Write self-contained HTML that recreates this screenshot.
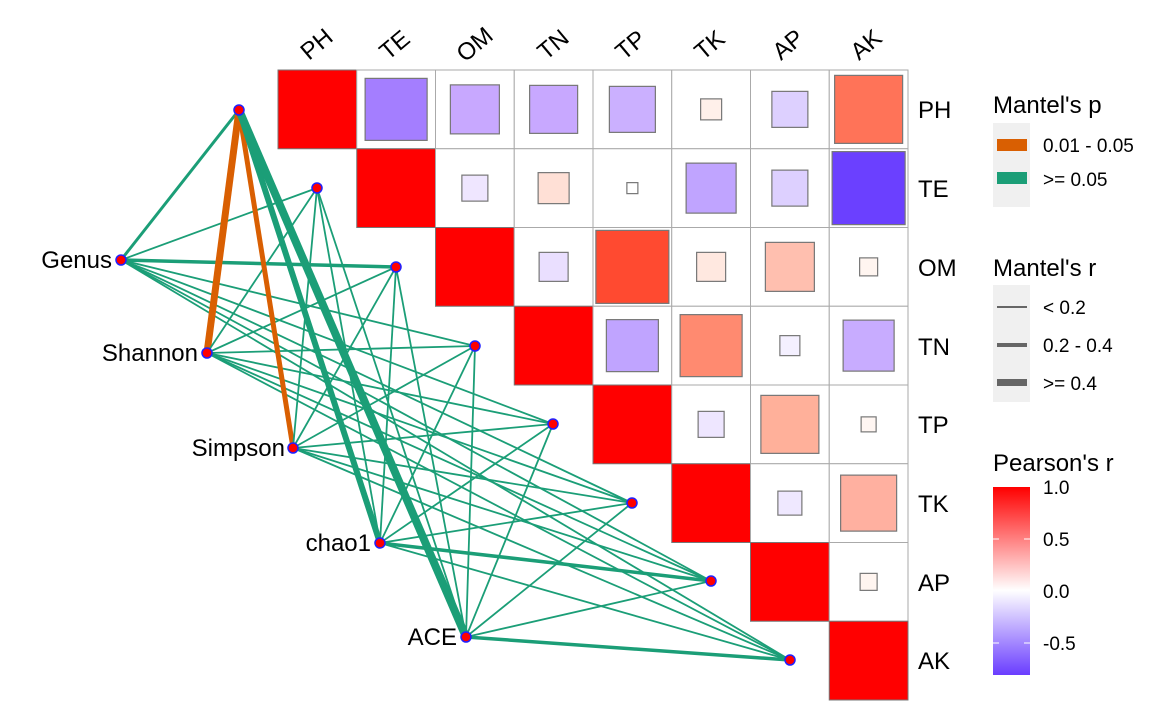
<!DOCTYPE html>
<html><head><meta charset="utf-8"><style>body{margin:0;background:#fff}svg{display:block;font-family:"Liberation Sans",sans-serif}</style></head><body>
<svg width="1160" height="727" viewBox="0 0 1160 727" xmlns="http://www.w3.org/2000/svg">
<rect width="1160" height="727" fill="#fff"/>
<g id="grid"></g>
<g id="edges"></g>
<g id="nodes"></g>
<g font-size="24" fill="#000">
<text transform="translate(309,61) rotate(-40)">PH</text>
<text transform="translate(388,61) rotate(-40)">TE</text>
<text transform="translate(465,63) rotate(-40)">OM</text>
<text transform="translate(546,61) rotate(-40)">TN</text>
<text transform="translate(624,61) rotate(-40)">TP</text>
<text transform="translate(703,61) rotate(-40)">TK</text>
<text transform="translate(781,61) rotate(-40)">AP</text>
<text transform="translate(859,61) rotate(-40)">AK</text>
<text x="918" y="118">PH</text><text x="918" y="197">TE</text><text x="918" y="276">OM</text><text x="918" y="355">TN</text>
<text x="918" y="433">TP</text><text x="918" y="512">TK</text><text x="918" y="591">AP</text><text x="918" y="669">AK</text>
<text x="112" y="268" text-anchor="end">Genus</text>
<text x="198" y="361" text-anchor="end">Shannon</text>
<text x="285" y="456" text-anchor="end">Simpson</text>
<text x="371" y="551" text-anchor="end">chao1</text>
<text x="457" y="645" text-anchor="end">ACE</text>
</g>
<g font-size="24"><text x="993" y="113">Mantel's p</text><text x="993" y="276">Mantel's r</text><text x="993" y="471">Pearson's r</text></g>
<rect x="993" y="123" width="37" height="84" fill="#f0f0f0"/>
<rect x="997" y="139" width="30" height="12" fill="#d95f02"/>
<rect x="997" y="172" width="30" height="12" fill="#1b9e77"/>
<rect x="993" y="285" width="37" height="117" fill="#f0f0f0"/>
<rect x="997" y="306" width="30" height="2" fill="#666"/>
<rect x="997" y="343" width="30" height="4" fill="#666"/>
<rect x="997" y="379" width="30" height="7" fill="#666"/>
<g font-size="19"><text x="1043" y="152">0.01 - 0.05</text><text x="1043" y="186">&gt;= 0.05</text>
<text x="1043" y="314">&lt; 0.2</text><text x="1043" y="352">0.2 - 0.4</text><text x="1043" y="390">&gt;= 0.4</text>
<text x="1043" y="494">1.0</text><text x="1043" y="546">0.5</text><text x="1043" y="598">0.0</text><text x="1043" y="650">-0.5</text></g>
<defs><linearGradient id="cb" x1="0" y1="0" x2="0" y2="1">
<stop offset="0" stop-color="#ff0000"/><stop offset="0.55" stop-color="#ffffff"/><stop offset="1" stop-color="#6a3dff"/></linearGradient></defs>
<rect x="993" y="487" width="37" height="188" fill="url(#cb)"/>
<g stroke="#fff" stroke-width="1"><line x1="993" y1="539" x2="999" y2="539"/><line x1="1024" y1="539" x2="1030" y2="539"/><line x1="993" y1="643" x2="999" y2="643"/><line x1="1024" y1="643" x2="1030" y2="643"/></g>
<script>
var x0=278,y0=70,c=78.75,ns="http://www.w3.org/2000/svg";
function el(t,a,p){var e=document.createElementNS(ns,t);for(var k in a)e.setAttribute(k,a[k]);document.getElementById(p).appendChild(e);return e;}
for(var i=0;i<8;i++)for(var j=i;j<8;j++){
 if(i==j)el('rect',{x:x0+j*c,y:y0+i*c,width:c,height:c,fill:'#ff0000',stroke:'#777','stroke-width':1},'grid');
 else el('rect',{x:x0+j*c,y:y0+i*c,width:c,height:c,fill:'#fff',stroke:'#aaa','stroke-width':1},'grid');}
var sq=[[0,1,62,'#a47eff'],[0,2,49,'#c8a8ff'],[0,3,48,'#c8a8ff'],[0,4,46,'#cbb0ff'],[0,5,21,'#fff0ea'],[0,6,36,'#ddd0ff'],[0,7,68,'#ff7358'],
[1,2,26,'#efe6ff'],[1,3,31,'#ffe0d6'],[1,4,11,'#ffffff'],[1,5,50,'#c0a4ff'],[1,6,36,'#ddd0ff'],[1,7,73,'#6b40ff'],
[2,3,29,'#eadfff'],[2,4,73,'#ff4a30'],[2,5,29,'#ffe8e0'],[2,6,49,'#ffbfaf'],[2,7,18,'#fff5f0'],
[3,4,52,'#c0a4ff'],[3,5,62,'#ff8a70'],[3,6,20,'#f4f0ff'],[3,7,51,'#c8acff'],
[4,5,26,'#eee6ff'],[4,6,58,'#ffb09a'],[4,7,15,'#fff6f2'],[5,6,24,'#efe8ff'],[5,7,56,'#ffb0a0'],[6,7,17,'#fff5f0']];
sq.forEach(function(s){var cx=x0+(s[1]+.5)*c,cy=y0+(s[0]+.5)*c;el('rect',{x:cx-s[2]/2,y:cy-s[2]/2,width:s[2],height:s[2],fill:s[3],stroke:'#777','stroke-width':1.2},'grid');});
var T=[[239,110],[317,188],[396,267],[475,346],[553,424],[632,503],[711,581],[790,660]];
var S=[[121,260],[207,353],[293,448],[380,543],[466,637]];
var thick={'0-0':[3,'#1b9e77'],'0-2':[3.5,'#1b9e77'],'1-0':[7,'#d95f02'],'2-0':[5,'#d95f02'],'3-0':[6,'#1b9e77'],'4-0':[8,'#1b9e77'],'3-6':[3.5,'#1b9e77'],'4-7':[3.5,'#1b9e77']};
for(var a=0;a<5;a++)for(var b=0;b<8;b++){var t=thick[a+'-'+b]||[1.8,'#1b9e77'];
 el('line',{x1:S[a][0],y1:S[a][1],x2:T[b][0],y2:T[b][1],stroke:t[1],'stroke-width':t[0]},'edges');}
S.concat(T).forEach(function(p){el('circle',{cx:p[0],cy:p[1],r:5,fill:'#ff0000',stroke:'#2020ff','stroke-width':1.5},'nodes');});
</script>
</svg>
</body></html>
